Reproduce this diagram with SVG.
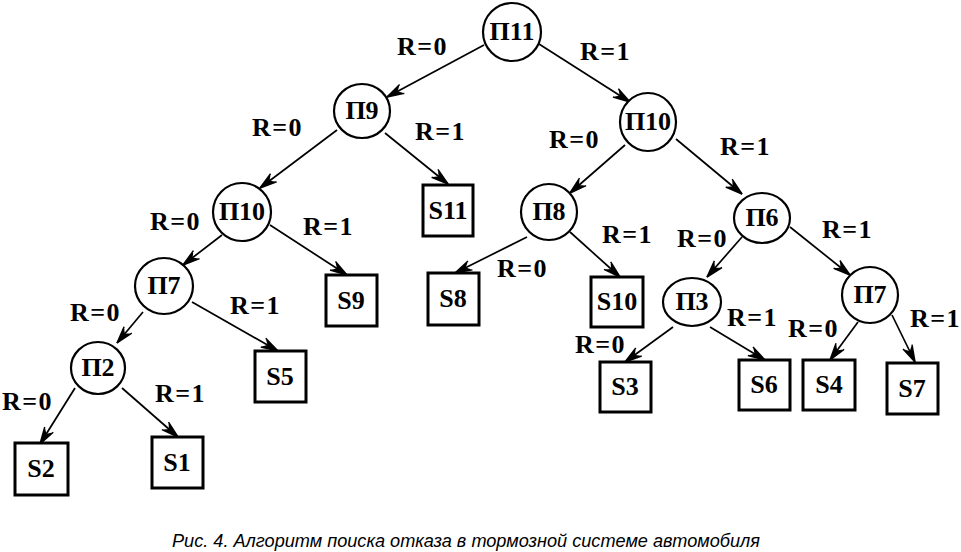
<svg xmlns="http://www.w3.org/2000/svg" width="961" height="552" viewBox="0 0 961 552">
<style>
.n{fill:#fff;stroke:#000;stroke-width:2.2}
.b{fill:#fff;stroke:#000;stroke-width:3}
.t{font-family:"Liberation Serif",serif;font-weight:bold;font-size:26px;text-anchor:middle;fill:#000}
.l{font-family:"Liberation Serif",serif;font-weight:bold;font-size:26px;letter-spacing:1.5px;fill:#000}
.e{stroke:#000;stroke-width:1.7;fill:none;marker-end:url(#ah)}
.cap{font-family:"Liberation Sans",sans-serif;font-style:italic;font-size:18px;fill:#000}
</style>
<defs>
<marker id="ah" markerUnits="userSpaceOnUse" markerWidth="22" markerHeight="14" refX="18" refY="7" orient="auto">
<path d="M18,7 L1,2 M18,7 L1,12 M18,7 L4,4 L7,7 L4,10 Z" stroke="#000" stroke-width="1.5" fill="#000"/>
</marker>
</defs>
<g id="connectors">
<line class="e" x1="484" y1="45" x2="387" y2="97"/>
<line class="e" x1="539" y1="44" x2="630" y2="102"/>
<line class="e" x1="337" y1="130" x2="260" y2="188"/>
<line class="e" x1="385" y1="133" x2="448" y2="184"/>
<line class="e" x1="625" y1="145" x2="570" y2="193"/>
<line class="e" x1="676" y1="139" x2="742" y2="194"/>
<line class="e" x1="222" y1="235" x2="183" y2="265"/>
<line class="e" x1="270" y1="225" x2="347" y2="275"/>
<line class="e" x1="143" y1="312" x2="117" y2="343"/>
<line class="e" x1="192" y1="302" x2="278" y2="351"/>
<line class="e" x1="75" y1="388" x2="40" y2="444"/>
<line class="e" x1="122" y1="388" x2="178" y2="437"/>
<line class="e" x1="527" y1="237" x2="455" y2="273"/>
<line class="e" x1="570" y1="232" x2="620" y2="277"/>
<line class="e" x1="742" y1="237" x2="707" y2="277"/>
<line class="e" x1="790" y1="227" x2="850" y2="275"/>
<line class="e" x1="673" y1="327" x2="625" y2="362"/>
<line class="e" x1="710" y1="327" x2="765" y2="360"/>
<line class="e" x1="858" y1="322" x2="830" y2="360"/>
<line class="e" x1="892" y1="315" x2="915" y2="362"/>
</g>
<g id="labels">
<text class="l" x="397" y="55">R=0</text>
<text class="l" x="580" y="60">R=1</text>
<text class="l" x="252" y="136">R=0</text>
<text class="l" x="415" y="140">R=1</text>
<text class="l" x="549" y="148">R=0</text>
<text class="l" x="720" y="155">R=1</text>
<text class="l" x="150" y="230">R=0</text>
<text class="l" x="303" y="235">R=1</text>
<text class="l" x="70" y="321">R=0</text>
<text class="l" x="230" y="314">R=1</text>
<text class="l" x="2" y="410">R=0</text>
<text class="l" x="155" y="402">R=1</text>
<text class="l" x="497" y="277">R=0</text>
<text class="l" x="602" y="243">R=1</text>
<text class="l" x="677" y="247">R=0</text>
<text class="l" x="822" y="238">R=1</text>
<text class="l" x="727" y="326">R=1</text>
<text class="l" x="575" y="353">R=0</text>
<text class="l" x="788" y="337">R=0</text>
<text class="l" x="910" y="327">R=1</text>
</g>
<g id="P11"><ellipse class="n" cx="512" cy="32" rx="29" ry="29"/><text class="t" x="512" y="40">П11</text></g>
<g id="P9"><ellipse class="n" cx="362" cy="111" rx="28" ry="27"/><text class="t" x="362" y="119">П9</text></g>
<g id="P10r"><ellipse class="n" cx="648" cy="122" rx="28" ry="29"/><text class="t" x="648" y="130">П10</text></g>
<g id="P10l"><ellipse class="n" cx="242" cy="212" rx="29" ry="29"/><text class="t" x="242" y="220">П10</text></g>
<g id="P8"><ellipse class="n" cx="549" cy="212" rx="28" ry="28"/><text class="t" x="549" y="220">П8</text></g>
<g id="P6"><ellipse class="n" cx="762" cy="218" rx="28" ry="25"/><text class="t" x="762" y="226">П6</text></g>
<g id="P7l"><ellipse class="n" cx="164" cy="286" rx="29" ry="28"/><text class="t" x="164" y="294">П7</text></g>
<g id="P3"><ellipse class="n" cx="692" cy="302" rx="29" ry="24"/><text class="t" x="692" y="310">П3</text></g>
<g id="P7r"><ellipse class="n" cx="870" cy="295" rx="28" ry="28"/><text class="t" x="870" y="303">П7</text></g>
<g id="P2"><ellipse class="n" cx="98" cy="368" rx="27" ry="26"/><text class="t" x="98" y="376">П2</text></g>
<g id="S11"><rect class="b" x="423" y="185" width="50" height="51"/><text class="t" x="448" y="219">S11</text></g>
<g id="S9"><rect class="b" x="326" y="275" width="51" height="51"/><text class="t" x="351" y="309">S9</text></g>
<g id="S8"><rect class="b" x="428" y="273" width="51" height="52"/><text class="t" x="453" y="307">S8</text></g>
<g id="S10"><rect class="b" x="591" y="277" width="52" height="50"/><text class="t" x="617" y="310">S10</text></g>
<g id="S5"><rect class="b" x="255" y="351" width="51" height="51"/><text class="t" x="280" y="385">S5</text></g>
<g id="S3"><rect class="b" x="600" y="362" width="51" height="50"/><text class="t" x="625" y="395">S3</text></g>
<g id="S6"><rect class="b" x="739" y="360" width="51" height="50"/><text class="t" x="764" y="393">S6</text></g>
<g id="S4"><rect class="b" x="803" y="360" width="52" height="50"/><text class="t" x="829" y="393">S4</text></g>
<g id="S7"><rect class="b" x="887" y="363" width="51" height="51"/><text class="t" x="912" y="397">S7</text></g>
<g id="S2"><rect class="b" x="15" y="443" width="53" height="52"/><text class="t" x="41" y="477">S2</text></g>
<g id="S1"><rect class="b" x="152" y="437" width="51" height="51"/><text class="t" x="177" y="471">S1</text></g>
<text class="cap" x="172" y="547" textLength="588" lengthAdjust="spacingAndGlyphs">Рис. 4. Алгоритм поиска отказа в тормозной системе автомобиля</text>
</svg>
